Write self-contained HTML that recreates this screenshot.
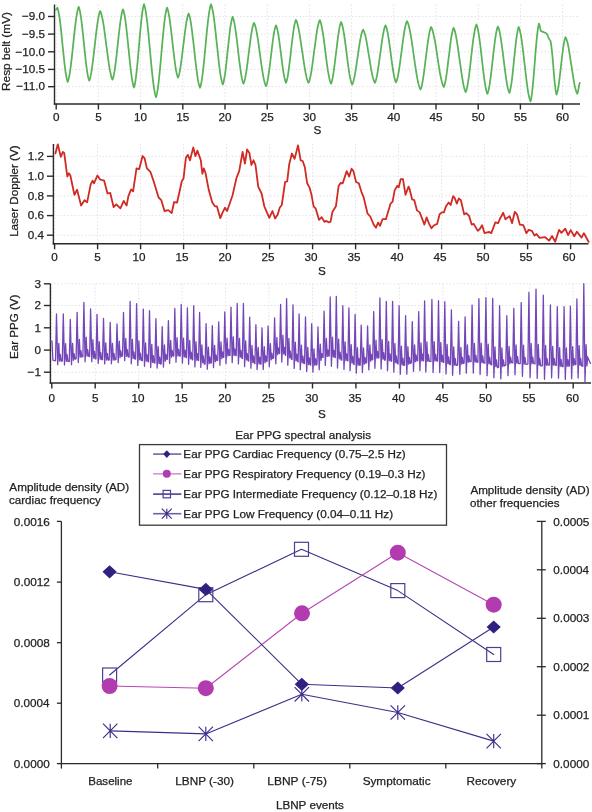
<!DOCTYPE html>
<html><head><meta charset="utf-8"><style>
html,body{margin:0;padding:0;background:#fff;}
svg{display:block;font-family:"Liberation Sans", sans-serif;filter:blur(0.4px);}
text{stroke:#222;stroke-width:0.25px;}
</style></head><body>
<svg width="592" height="812" viewBox="0 0 592 812">
<rect width="592" height="812" fill="#fff"/>
<line x1="54.5" y1="16.5" x2="580" y2="16.5" stroke="#e2e2e8" stroke-width="1" stroke-dasharray="1.5 2"/>
<line x1="54.5" y1="34.1" x2="580" y2="34.1" stroke="#e2e2e8" stroke-width="1" stroke-dasharray="1.5 2"/>
<line x1="54.5" y1="51.8" x2="580" y2="51.8" stroke="#e2e2e8" stroke-width="1" stroke-dasharray="1.5 2"/>
<line x1="54.5" y1="69.4" x2="580" y2="69.4" stroke="#e2e2e8" stroke-width="1" stroke-dasharray="1.5 2"/>
<line x1="54.5" y1="86.7" x2="580" y2="86.7" stroke="#e2e2e8" stroke-width="1" stroke-dasharray="1.5 2"/>
<line x1="56.2" y1="4.5" x2="56.2" y2="104" stroke="#e2e2e8" stroke-width="1" stroke-dasharray="1.5 2"/>
<line x1="98.4" y1="4.5" x2="98.4" y2="104" stroke="#e2e2e8" stroke-width="1" stroke-dasharray="1.5 2"/>
<line x1="140.6" y1="4.5" x2="140.6" y2="104" stroke="#e2e2e8" stroke-width="1" stroke-dasharray="1.5 2"/>
<line x1="182.8" y1="4.5" x2="182.8" y2="104" stroke="#e2e2e8" stroke-width="1" stroke-dasharray="1.5 2"/>
<line x1="225" y1="4.5" x2="225" y2="104" stroke="#e2e2e8" stroke-width="1" stroke-dasharray="1.5 2"/>
<line x1="267.2" y1="4.5" x2="267.2" y2="104" stroke="#e2e2e8" stroke-width="1" stroke-dasharray="1.5 2"/>
<line x1="309.4" y1="4.5" x2="309.4" y2="104" stroke="#e2e2e8" stroke-width="1" stroke-dasharray="1.5 2"/>
<line x1="351.6" y1="4.5" x2="351.6" y2="104" stroke="#e2e2e8" stroke-width="1" stroke-dasharray="1.5 2"/>
<line x1="393.8" y1="4.5" x2="393.8" y2="104" stroke="#e2e2e8" stroke-width="1" stroke-dasharray="1.5 2"/>
<line x1="436" y1="4.5" x2="436" y2="104" stroke="#e2e2e8" stroke-width="1" stroke-dasharray="1.5 2"/>
<line x1="478.2" y1="4.5" x2="478.2" y2="104" stroke="#e2e2e8" stroke-width="1" stroke-dasharray="1.5 2"/>
<line x1="520.4" y1="4.5" x2="520.4" y2="104" stroke="#e2e2e8" stroke-width="1" stroke-dasharray="1.5 2"/>
<line x1="562.6" y1="4.5" x2="562.6" y2="104" stroke="#e2e2e8" stroke-width="1" stroke-dasharray="1.5 2"/>
<line x1="54.5" y1="4.5" x2="54.5" y2="104.7" stroke="#2b2b2b" stroke-width="1.4" />
<line x1="53.8" y1="104" x2="580" y2="104" stroke="#2b2b2b" stroke-width="1.4" />
<line x1="48" y1="16.5" x2="54.5" y2="16.5" stroke="#2b2b2b" stroke-width="1.4" />
<text x="45" y="20.2" font-size="11.7" text-anchor="end" fill="#222" >−9.0</text>
<line x1="48" y1="34.1" x2="54.5" y2="34.1" stroke="#2b2b2b" stroke-width="1.4" />
<text x="45" y="37.8" font-size="11.7" text-anchor="end" fill="#222" >−9.5</text>
<line x1="48" y1="51.8" x2="54.5" y2="51.8" stroke="#2b2b2b" stroke-width="1.4" />
<text x="45" y="55.5" font-size="11.7" text-anchor="end" fill="#222" >−10.0</text>
<line x1="48" y1="69.4" x2="54.5" y2="69.4" stroke="#2b2b2b" stroke-width="1.4" />
<text x="45" y="73.1" font-size="11.7" text-anchor="end" fill="#222" >−10.5</text>
<line x1="48" y1="86.7" x2="54.5" y2="86.7" stroke="#2b2b2b" stroke-width="1.4" />
<text x="45" y="90.4" font-size="11.7" text-anchor="end" fill="#222" >−11.0</text>
<line x1="56.2" y1="104" x2="56.2" y2="109.5" stroke="#2b2b2b" stroke-width="1.4" />
<text x="56.2" y="121.4" font-size="11.7" text-anchor="middle" fill="#222" >0</text>
<line x1="98.4" y1="104" x2="98.4" y2="109.5" stroke="#2b2b2b" stroke-width="1.4" />
<text x="98.4" y="121.4" font-size="11.7" text-anchor="middle" fill="#222" >5</text>
<line x1="140.6" y1="104" x2="140.6" y2="109.5" stroke="#2b2b2b" stroke-width="1.4" />
<text x="140.6" y="121.4" font-size="11.7" text-anchor="middle" fill="#222" >10</text>
<line x1="182.8" y1="104" x2="182.8" y2="109.5" stroke="#2b2b2b" stroke-width="1.4" />
<text x="182.8" y="121.4" font-size="11.7" text-anchor="middle" fill="#222" >15</text>
<line x1="225" y1="104" x2="225" y2="109.5" stroke="#2b2b2b" stroke-width="1.4" />
<text x="225" y="121.4" font-size="11.7" text-anchor="middle" fill="#222" >20</text>
<line x1="267.2" y1="104" x2="267.2" y2="109.5" stroke="#2b2b2b" stroke-width="1.4" />
<text x="267.2" y="121.4" font-size="11.7" text-anchor="middle" fill="#222" >25</text>
<line x1="309.4" y1="104" x2="309.4" y2="109.5" stroke="#2b2b2b" stroke-width="1.4" />
<text x="309.4" y="121.4" font-size="11.7" text-anchor="middle" fill="#222" >30</text>
<line x1="351.6" y1="104" x2="351.6" y2="109.5" stroke="#2b2b2b" stroke-width="1.4" />
<text x="351.6" y="121.4" font-size="11.7" text-anchor="middle" fill="#222" >35</text>
<line x1="393.8" y1="104" x2="393.8" y2="109.5" stroke="#2b2b2b" stroke-width="1.4" />
<text x="393.8" y="121.4" font-size="11.7" text-anchor="middle" fill="#222" >40</text>
<line x1="436" y1="104" x2="436" y2="109.5" stroke="#2b2b2b" stroke-width="1.4" />
<text x="436" y="121.4" font-size="11.7" text-anchor="middle" fill="#222" >45</text>
<line x1="478.2" y1="104" x2="478.2" y2="109.5" stroke="#2b2b2b" stroke-width="1.4" />
<text x="478.2" y="121.4" font-size="11.7" text-anchor="middle" fill="#222" >50</text>
<line x1="520.4" y1="104" x2="520.4" y2="109.5" stroke="#2b2b2b" stroke-width="1.4" />
<text x="520.4" y="121.4" font-size="11.7" text-anchor="middle" fill="#222" >55</text>
<line x1="562.6" y1="104" x2="562.6" y2="109.5" stroke="#2b2b2b" stroke-width="1.4" />
<text x="562.6" y="121.4" font-size="11.7" text-anchor="middle" fill="#222" >60</text>
<text x="317.5" y="134.2" font-size="11.7" text-anchor="middle" fill="#222" >S</text>
<text x="-90.97" y="9.60" font-size="11.7" fill="#222" textLength="79.01" lengthAdjust="spacingAndGlyphs" transform="rotate(-90)">Resp belt (mV)</text>
<line x1="53.4" y1="156.4" x2="588.5" y2="156.4" stroke="#e2e2e8" stroke-width="1" stroke-dasharray="1.5 2"/>
<line x1="53.4" y1="176.2" x2="588.5" y2="176.2" stroke="#e2e2e8" stroke-width="1" stroke-dasharray="1.5 2"/>
<line x1="53.4" y1="195.9" x2="588.5" y2="195.9" stroke="#e2e2e8" stroke-width="1" stroke-dasharray="1.5 2"/>
<line x1="53.4" y1="215.6" x2="588.5" y2="215.6" stroke="#e2e2e8" stroke-width="1" stroke-dasharray="1.5 2"/>
<line x1="53.4" y1="235.2" x2="588.5" y2="235.2" stroke="#e2e2e8" stroke-width="1" stroke-dasharray="1.5 2"/>
<line x1="54.6" y1="144" x2="54.6" y2="243.8" stroke="#e2e2e8" stroke-width="1" stroke-dasharray="1.5 2"/>
<line x1="97.6" y1="144" x2="97.6" y2="243.8" stroke="#e2e2e8" stroke-width="1" stroke-dasharray="1.5 2"/>
<line x1="140.6" y1="144" x2="140.6" y2="243.8" stroke="#e2e2e8" stroke-width="1" stroke-dasharray="1.5 2"/>
<line x1="183.6" y1="144" x2="183.6" y2="243.8" stroke="#e2e2e8" stroke-width="1" stroke-dasharray="1.5 2"/>
<line x1="226.6" y1="144" x2="226.6" y2="243.8" stroke="#e2e2e8" stroke-width="1" stroke-dasharray="1.5 2"/>
<line x1="269.6" y1="144" x2="269.6" y2="243.8" stroke="#e2e2e8" stroke-width="1" stroke-dasharray="1.5 2"/>
<line x1="312.6" y1="144" x2="312.6" y2="243.8" stroke="#e2e2e8" stroke-width="1" stroke-dasharray="1.5 2"/>
<line x1="355.6" y1="144" x2="355.6" y2="243.8" stroke="#e2e2e8" stroke-width="1" stroke-dasharray="1.5 2"/>
<line x1="398.6" y1="144" x2="398.6" y2="243.8" stroke="#e2e2e8" stroke-width="1" stroke-dasharray="1.5 2"/>
<line x1="441.6" y1="144" x2="441.6" y2="243.8" stroke="#e2e2e8" stroke-width="1" stroke-dasharray="1.5 2"/>
<line x1="484.6" y1="144" x2="484.6" y2="243.8" stroke="#e2e2e8" stroke-width="1" stroke-dasharray="1.5 2"/>
<line x1="527.6" y1="144" x2="527.6" y2="243.8" stroke="#e2e2e8" stroke-width="1" stroke-dasharray="1.5 2"/>
<line x1="570.6" y1="144" x2="570.6" y2="243.8" stroke="#e2e2e8" stroke-width="1" stroke-dasharray="1.5 2"/>
<line x1="53.4" y1="144" x2="53.4" y2="244.5" stroke="#2b2b2b" stroke-width="1.4" />
<line x1="52.7" y1="243.8" x2="588.5" y2="243.8" stroke="#2b2b2b" stroke-width="1.4" />
<line x1="46.9" y1="156.4" x2="53.4" y2="156.4" stroke="#2b2b2b" stroke-width="1.4" />
<text x="43.9" y="160.1" font-size="11.7" text-anchor="end" fill="#222" >1.2</text>
<line x1="46.9" y1="176.2" x2="53.4" y2="176.2" stroke="#2b2b2b" stroke-width="1.4" />
<text x="43.9" y="179.9" font-size="11.7" text-anchor="end" fill="#222" >1.0</text>
<line x1="46.9" y1="195.9" x2="53.4" y2="195.9" stroke="#2b2b2b" stroke-width="1.4" />
<text x="43.9" y="199.6" font-size="11.7" text-anchor="end" fill="#222" >0.8</text>
<line x1="46.9" y1="215.6" x2="53.4" y2="215.6" stroke="#2b2b2b" stroke-width="1.4" />
<text x="43.9" y="219.3" font-size="11.7" text-anchor="end" fill="#222" >0.6</text>
<line x1="46.9" y1="235.2" x2="53.4" y2="235.2" stroke="#2b2b2b" stroke-width="1.4" />
<text x="43.9" y="238.9" font-size="11.7" text-anchor="end" fill="#222" >0.4</text>
<line x1="54.6" y1="243.8" x2="54.6" y2="249.3" stroke="#2b2b2b" stroke-width="1.4" />
<text x="54.6" y="261.1" font-size="11.7" text-anchor="middle" fill="#222" >0</text>
<line x1="97.6" y1="243.8" x2="97.6" y2="249.3" stroke="#2b2b2b" stroke-width="1.4" />
<text x="97.6" y="261.1" font-size="11.7" text-anchor="middle" fill="#222" >5</text>
<line x1="140.6" y1="243.8" x2="140.6" y2="249.3" stroke="#2b2b2b" stroke-width="1.4" />
<text x="139" y="261.1" font-size="11.7" text-anchor="middle" fill="#222" >10</text>
<line x1="183.6" y1="243.8" x2="183.6" y2="249.3" stroke="#2b2b2b" stroke-width="1.4" />
<text x="182" y="261.1" font-size="11.7" text-anchor="middle" fill="#222" >15</text>
<line x1="226.6" y1="243.8" x2="226.6" y2="249.3" stroke="#2b2b2b" stroke-width="1.4" />
<text x="225" y="261.1" font-size="11.7" text-anchor="middle" fill="#222" >20</text>
<line x1="269.6" y1="243.8" x2="269.6" y2="249.3" stroke="#2b2b2b" stroke-width="1.4" />
<text x="268" y="261.1" font-size="11.7" text-anchor="middle" fill="#222" >25</text>
<line x1="312.6" y1="243.8" x2="312.6" y2="249.3" stroke="#2b2b2b" stroke-width="1.4" />
<text x="311" y="261.1" font-size="11.7" text-anchor="middle" fill="#222" >30</text>
<line x1="355.6" y1="243.8" x2="355.6" y2="249.3" stroke="#2b2b2b" stroke-width="1.4" />
<text x="354" y="261.1" font-size="11.7" text-anchor="middle" fill="#222" >35</text>
<line x1="398.6" y1="243.8" x2="398.6" y2="249.3" stroke="#2b2b2b" stroke-width="1.4" />
<text x="397" y="261.1" font-size="11.7" text-anchor="middle" fill="#222" >40</text>
<line x1="441.6" y1="243.8" x2="441.6" y2="249.3" stroke="#2b2b2b" stroke-width="1.4" />
<text x="440" y="261.1" font-size="11.7" text-anchor="middle" fill="#222" >45</text>
<line x1="484.6" y1="243.8" x2="484.6" y2="249.3" stroke="#2b2b2b" stroke-width="1.4" />
<text x="483" y="261.1" font-size="11.7" text-anchor="middle" fill="#222" >50</text>
<line x1="527.6" y1="243.8" x2="527.6" y2="249.3" stroke="#2b2b2b" stroke-width="1.4" />
<text x="526" y="261.1" font-size="11.7" text-anchor="middle" fill="#222" >55</text>
<line x1="570.6" y1="243.8" x2="570.6" y2="249.3" stroke="#2b2b2b" stroke-width="1.4" />
<text x="569" y="261.1" font-size="11.7" text-anchor="middle" fill="#222" >60</text>
<text x="322" y="274.6" font-size="11.7" text-anchor="middle" fill="#222" >S</text>
<text x="-236.85" y="18.10" font-size="11.7" fill="#222" textLength="91.37" lengthAdjust="spacingAndGlyphs" transform="rotate(-90)">Laser Doppler (V)</text>
<line x1="50.4" y1="283.8" x2="591" y2="283.8" stroke="#e2e2e8" stroke-width="1" stroke-dasharray="1.5 2"/>
<line x1="50.4" y1="305.5" x2="591" y2="305.5" stroke="#e2e2e8" stroke-width="1" stroke-dasharray="1.5 2"/>
<line x1="50.4" y1="327.8" x2="591" y2="327.8" stroke="#e2e2e8" stroke-width="1" stroke-dasharray="1.5 2"/>
<line x1="50.4" y1="350.1" x2="591" y2="350.1" stroke="#e2e2e8" stroke-width="1" stroke-dasharray="1.5 2"/>
<line x1="50.4" y1="372.2" x2="591" y2="372.2" stroke="#e2e2e8" stroke-width="1" stroke-dasharray="1.5 2"/>
<line x1="51.8" y1="283.8" x2="51.8" y2="383" stroke="#e2e2e8" stroke-width="1" stroke-dasharray="1.5 2"/>
<line x1="95.2" y1="283.8" x2="95.2" y2="383" stroke="#e2e2e8" stroke-width="1" stroke-dasharray="1.5 2"/>
<line x1="138.7" y1="283.8" x2="138.7" y2="383" stroke="#e2e2e8" stroke-width="1" stroke-dasharray="1.5 2"/>
<line x1="182.1" y1="283.8" x2="182.1" y2="383" stroke="#e2e2e8" stroke-width="1" stroke-dasharray="1.5 2"/>
<line x1="225.6" y1="283.8" x2="225.6" y2="383" stroke="#e2e2e8" stroke-width="1" stroke-dasharray="1.5 2"/>
<line x1="269" y1="283.8" x2="269" y2="383" stroke="#e2e2e8" stroke-width="1" stroke-dasharray="1.5 2"/>
<line x1="312.5" y1="283.8" x2="312.5" y2="383" stroke="#e2e2e8" stroke-width="1" stroke-dasharray="1.5 2"/>
<line x1="355.9" y1="283.8" x2="355.9" y2="383" stroke="#e2e2e8" stroke-width="1" stroke-dasharray="1.5 2"/>
<line x1="399.4" y1="283.8" x2="399.4" y2="383" stroke="#e2e2e8" stroke-width="1" stroke-dasharray="1.5 2"/>
<line x1="442.8" y1="283.8" x2="442.8" y2="383" stroke="#e2e2e8" stroke-width="1" stroke-dasharray="1.5 2"/>
<line x1="486.3" y1="283.8" x2="486.3" y2="383" stroke="#e2e2e8" stroke-width="1" stroke-dasharray="1.5 2"/>
<line x1="529.7" y1="283.8" x2="529.7" y2="383" stroke="#e2e2e8" stroke-width="1" stroke-dasharray="1.5 2"/>
<line x1="573.2" y1="283.8" x2="573.2" y2="383" stroke="#e2e2e8" stroke-width="1" stroke-dasharray="1.5 2"/>
<line x1="50.4" y1="283.8" x2="50.4" y2="383.7" stroke="#2b2b2b" stroke-width="1.4" />
<line x1="49.7" y1="383" x2="591" y2="383" stroke="#2b2b2b" stroke-width="1.4" />
<line x1="43.9" y1="283.8" x2="50.4" y2="283.8" stroke="#2b2b2b" stroke-width="1.4" />
<text x="40.9" y="287.5" font-size="11.7" text-anchor="end" fill="#222" >3</text>
<line x1="43.9" y1="305.5" x2="50.4" y2="305.5" stroke="#2b2b2b" stroke-width="1.4" />
<text x="40.9" y="309.2" font-size="11.7" text-anchor="end" fill="#222" >2</text>
<line x1="43.9" y1="327.8" x2="50.4" y2="327.8" stroke="#2b2b2b" stroke-width="1.4" />
<text x="40.9" y="331.5" font-size="11.7" text-anchor="end" fill="#222" >1</text>
<line x1="43.9" y1="350.1" x2="50.4" y2="350.1" stroke="#2b2b2b" stroke-width="1.4" />
<text x="40.9" y="353.8" font-size="11.7" text-anchor="end" fill="#222" >0</text>
<line x1="43.9" y1="372.2" x2="50.4" y2="372.2" stroke="#2b2b2b" stroke-width="1.4" />
<text x="40.9" y="375.9" font-size="11.7" text-anchor="end" fill="#222" >−1</text>
<line x1="51.8" y1="383" x2="51.8" y2="388.5" stroke="#2b2b2b" stroke-width="1.4" />
<text x="51.8" y="401.9" font-size="11.7" text-anchor="middle" fill="#222" >0</text>
<line x1="95.2" y1="383" x2="95.2" y2="388.5" stroke="#2b2b2b" stroke-width="1.4" />
<text x="95.2" y="401.9" font-size="11.7" text-anchor="middle" fill="#222" >5</text>
<line x1="138.7" y1="383" x2="138.7" y2="388.5" stroke="#2b2b2b" stroke-width="1.4" />
<text x="137.9" y="401.9" font-size="11.7" text-anchor="middle" fill="#222" >10</text>
<line x1="182.1" y1="383" x2="182.1" y2="388.5" stroke="#2b2b2b" stroke-width="1.4" />
<text x="181.3" y="401.9" font-size="11.7" text-anchor="middle" fill="#222" >15</text>
<line x1="225.6" y1="383" x2="225.6" y2="388.5" stroke="#2b2b2b" stroke-width="1.4" />
<text x="224.8" y="401.9" font-size="11.7" text-anchor="middle" fill="#222" >20</text>
<line x1="269" y1="383" x2="269" y2="388.5" stroke="#2b2b2b" stroke-width="1.4" />
<text x="268.2" y="401.9" font-size="11.7" text-anchor="middle" fill="#222" >25</text>
<line x1="312.5" y1="383" x2="312.5" y2="388.5" stroke="#2b2b2b" stroke-width="1.4" />
<text x="311.7" y="401.9" font-size="11.7" text-anchor="middle" fill="#222" >30</text>
<line x1="355.9" y1="383" x2="355.9" y2="388.5" stroke="#2b2b2b" stroke-width="1.4" />
<text x="355.1" y="401.9" font-size="11.7" text-anchor="middle" fill="#222" >35</text>
<line x1="399.4" y1="383" x2="399.4" y2="388.5" stroke="#2b2b2b" stroke-width="1.4" />
<text x="398.6" y="401.9" font-size="11.7" text-anchor="middle" fill="#222" >40</text>
<line x1="442.8" y1="383" x2="442.8" y2="388.5" stroke="#2b2b2b" stroke-width="1.4" />
<text x="442" y="401.9" font-size="11.7" text-anchor="middle" fill="#222" >45</text>
<line x1="486.3" y1="383" x2="486.3" y2="388.5" stroke="#2b2b2b" stroke-width="1.4" />
<text x="485.5" y="401.9" font-size="11.7" text-anchor="middle" fill="#222" >50</text>
<line x1="529.7" y1="383" x2="529.7" y2="388.5" stroke="#2b2b2b" stroke-width="1.4" />
<text x="528.9" y="401.9" font-size="11.7" text-anchor="middle" fill="#222" >55</text>
<line x1="573.2" y1="383" x2="573.2" y2="388.5" stroke="#2b2b2b" stroke-width="1.4" />
<text x="572.4" y="401.9" font-size="11.7" text-anchor="middle" fill="#222" >60</text>
<text x="322" y="417.6" font-size="11.7" text-anchor="middle" fill="#222" >S</text>
<text x="-359.05" y="18.00" font-size="11.7" fill="#222" textLength="64.47" lengthAdjust="spacingAndGlyphs" transform="rotate(-90)">Ear PPG (V)</text>
<line x1="61.4" y1="521.4" x2="61.4" y2="764.2" stroke="#2b2b2b" stroke-width="1.3" />
<line x1="60.8" y1="763.6" x2="542.4" y2="763.6" stroke="#2b2b2b" stroke-width="1.3" />
<line x1="541.8" y1="521.4" x2="541.8" y2="764.2" stroke="#2b2b2b" stroke-width="1.3" />
<line x1="56.9" y1="521.4" x2="61.4" y2="521.4" stroke="#2b2b2b" stroke-width="1.3" />
<text x="13.84" y="525.60" font-size="11.7" fill="#222" textLength="35.98" lengthAdjust="spacingAndGlyphs">0.0016</text>
<line x1="56.9" y1="582.1" x2="61.4" y2="582.1" stroke="#2b2b2b" stroke-width="1.3" />
<text x="13.84" y="586.30" font-size="11.7" fill="#222" textLength="36.05" lengthAdjust="spacingAndGlyphs">0.0012</text>
<line x1="56.9" y1="642.7" x2="61.4" y2="642.7" stroke="#2b2b2b" stroke-width="1.3" />
<text x="13.84" y="646.90" font-size="11.7" fill="#222" textLength="35.97" lengthAdjust="spacingAndGlyphs">0.0008</text>
<line x1="56.9" y1="703.2" x2="61.4" y2="703.2" stroke="#2b2b2b" stroke-width="1.3" />
<text x="13.84" y="707.40" font-size="11.7" fill="#222" textLength="35.80" lengthAdjust="spacingAndGlyphs">0.0004</text>
<line x1="56.9" y1="763.6" x2="61.4" y2="763.6" stroke="#2b2b2b" stroke-width="1.3" />
<text x="13.84" y="767.80" font-size="11.7" fill="#222" textLength="35.92" lengthAdjust="spacingAndGlyphs">0.0000</text>
<line x1="536.8" y1="521.4" x2="545.8" y2="521.4" stroke="#2b2b2b" stroke-width="1.3" />
<text x="553.34" y="525.60" font-size="11.7" fill="#222" textLength="35.95" lengthAdjust="spacingAndGlyphs">0.0005</text>
<line x1="536.8" y1="569.8" x2="545.8" y2="569.8" stroke="#2b2b2b" stroke-width="1.3" />
<text x="553.34" y="574.04" font-size="11.7" fill="#222" textLength="35.80" lengthAdjust="spacingAndGlyphs">0.0004</text>
<line x1="536.8" y1="618.3" x2="545.8" y2="618.3" stroke="#2b2b2b" stroke-width="1.3" />
<text x="553.34" y="622.48" font-size="11.7" fill="#222" textLength="35.98" lengthAdjust="spacingAndGlyphs">0.0003</text>
<line x1="536.8" y1="666.7" x2="545.8" y2="666.7" stroke="#2b2b2b" stroke-width="1.3" />
<text x="553.34" y="670.92" font-size="11.7" fill="#222" textLength="36.05" lengthAdjust="spacingAndGlyphs">0.0002</text>
<line x1="536.8" y1="715.2" x2="545.8" y2="715.2" stroke="#2b2b2b" stroke-width="1.3" />
<text x="553.34" y="719.36" font-size="11.7" fill="#222" textLength="36.04" lengthAdjust="spacingAndGlyphs">0.0001</text>
<line x1="536.8" y1="763.6" x2="545.8" y2="763.6" stroke="#2b2b2b" stroke-width="1.3" />
<text x="553.34" y="767.80" font-size="11.7" fill="#222" textLength="35.92" lengthAdjust="spacingAndGlyphs">0.0000</text>
<line x1="157.7" y1="763.6" x2="157.7" y2="768.6" stroke="#2b2b2b" stroke-width="1.3" />
<line x1="253.8" y1="763.6" x2="253.8" y2="768.6" stroke="#2b2b2b" stroke-width="1.3" />
<line x1="349.8" y1="763.6" x2="349.8" y2="768.6" stroke="#2b2b2b" stroke-width="1.3" />
<line x1="445.8" y1="763.6" x2="445.8" y2="768.6" stroke="#2b2b2b" stroke-width="1.3" />
<line x1="61.4" y1="763.6" x2="61.4" y2="768.6" stroke="#2b2b2b" stroke-width="1.3" />
<line x1="541.8" y1="763.6" x2="541.8" y2="768.6" stroke="#2b2b2b" stroke-width="1.3" />
<text x="88.25" y="784.60" font-size="11.7" fill="#222" textLength="44.26" lengthAdjust="spacingAndGlyphs">Baseline</text>
<text x="175.24" y="784.60" font-size="11.7" fill="#222" textLength="58.69" lengthAdjust="spacingAndGlyphs">LBNP (-30)</text>
<text x="267.32" y="784.60" font-size="11.7" fill="#222" textLength="59.62" lengthAdjust="spacingAndGlyphs">LBNP (-75)</text>
<text x="362.67" y="784.60" font-size="11.7" fill="#222" textLength="67.84" lengthAdjust="spacingAndGlyphs">Symptomatic</text>
<text x="466.43" y="784.60" font-size="11.7" fill="#222" textLength="49.79" lengthAdjust="spacingAndGlyphs">Recovery</text>
<text x="275.95" y="809.00" font-size="11.7" fill="#222" textLength="67.87" lengthAdjust="spacingAndGlyphs">LBNP events</text>
<text x="9.38" y="490.70" font-size="11.7" fill="#222" textLength="119.85" lengthAdjust="spacingAndGlyphs">Amplitude density (AD)</text>
<text x="8.91" y="504.40" font-size="11.7" fill="#222" textLength="91.92" lengthAdjust="spacingAndGlyphs">cardiac frequency</text>
<text x="470.38" y="493.80" font-size="11.7" fill="#222" textLength="119.25" lengthAdjust="spacingAndGlyphs">Amplitude density (AD)</text>
<text x="470.11" y="507.00" font-size="11.7" fill="#222" textLength="89.40" lengthAdjust="spacingAndGlyphs">other frequencies</text>
<text x="235.24" y="438.80" font-size="11.7" fill="#222" textLength="135.78" lengthAdjust="spacingAndGlyphs">Ear PPG spectral analysis</text>
<rect x="139.5" y="444.6" width="307.0" height="80.6" fill="none" stroke="#3a3a3a" stroke-width="1.3"/>
<line x1="153.1" y1="454.1" x2="181.3" y2="454.1" stroke="#6d66a6" stroke-width="1.6" />
<text x="183.34" y="457.60" font-size="11.7" fill="#222" textLength="222.39" lengthAdjust="spacingAndGlyphs">Ear PPG Cardiac Frequency (0.75–2.5 Hz)</text>
<line x1="153.1" y1="473.8" x2="181.3" y2="473.8" stroke="#d891d2" stroke-width="1.6" />
<text x="183.34" y="477.70" font-size="11.7" fill="#222" textLength="242.19" lengthAdjust="spacingAndGlyphs">Ear PPG Respiratory Frequency (0.19–0.3 Hz)</text>
<line x1="153.1" y1="494.1" x2="181.3" y2="494.1" stroke="#4a4190" stroke-width="1.6" />
<text x="183.34" y="497.80" font-size="11.7" fill="#222" textLength="253.99" lengthAdjust="spacingAndGlyphs">Ear PPG Intermediate Frequency (0.12–0.18 Hz)</text>
<line x1="153.1" y1="513.7" x2="181.3" y2="513.7" stroke="#6a64a2" stroke-width="1.6" />
<text x="183.34" y="517.60" font-size="11.7" fill="#222" textLength="209.78" lengthAdjust="spacingAndGlyphs">Ear PPG Low Frequency (0.04–0.11 Hz)</text>
<path d="M166.8 450.3 L170.4 454.1 L166.8 457.9 L163.2 454.1Z" fill="#2f2180"/>
<circle cx="166.8" cy="473.8" r="4" fill="#b33bb0"/>
<rect x="163.1" y="490.4" width="7.4" height="7.4" fill="none" stroke="#4a4192" stroke-width="1.2"/>
<path d="M161.8 508.7 L171.8 518.7 M171.8 508.7 L161.8 518.7 M166.8 508.7 L166.8 518.7" stroke="#3b2f8a" stroke-width="1.15" fill="none"/>
<path d="M109.6 675 L205.8 594.7 L301.5 549.3 L397.8 590.6 L493.7 654.5" fill="none" stroke="#3a3088" stroke-width="1.1" stroke-linejoin="round" stroke-linecap="round" />
<path d="M110.2 730.9 L205.8 733.9 L301.8 694.3 L397.8 712.5 L493.7 741.1" fill="none" stroke="#3a3088" stroke-width="1.1" stroke-linejoin="round" stroke-linecap="round" />
<path d="M109.6 686 L205.8 688.2 L302 613.3 L397.8 552.7 L493.7 604.7" fill="none" stroke="#b548b2" stroke-width="1.1" stroke-linejoin="round" stroke-linecap="round" />
<path d="M109.6 571.8 L205.8 589.4 L301.8 684.3 L397.8 688 L493.7 627" fill="none" stroke="#3a3088" stroke-width="1.1" stroke-linejoin="round" stroke-linecap="round" />
<rect x="102.6" y="668" width="14" height="14" fill="none" stroke="#4a4192" stroke-width="1.2"/>
<rect x="198.8" y="587.7" width="14" height="14" fill="none" stroke="#4a4192" stroke-width="1.2"/>
<rect x="294.5" y="542.3" width="14" height="14" fill="none" stroke="#4a4192" stroke-width="1.2"/>
<rect x="390.8" y="583.6" width="14" height="14" fill="none" stroke="#4a4192" stroke-width="1.2"/>
<rect x="486.7" y="647.5" width="14" height="14" fill="none" stroke="#4a4192" stroke-width="1.2"/>
<circle cx="109.6" cy="686" r="8" fill="#b33bb0"/>
<circle cx="205.8" cy="688.2" r="8" fill="#b33bb0"/>
<circle cx="302" cy="613.3" r="8" fill="#b33bb0"/>
<circle cx="397.8" cy="552.7" r="8" fill="#b33bb0"/>
<circle cx="493.7" cy="604.7" r="8" fill="#b33bb0"/>
<path d="M109.6 565.2 L116.7 571.8 L109.6 578.4 L102.5 571.8Z" fill="#2f2180"/>
<path d="M205.8 582.8 L212.9 589.4 L205.8 596 L198.7 589.4Z" fill="#2f2180"/>
<path d="M301.8 677.7 L308.9 684.3 L301.8 690.9 L294.7 684.3Z" fill="#2f2180"/>
<path d="M397.8 681.4 L404.9 688 L397.8 694.6 L390.7 688Z" fill="#2f2180"/>
<path d="M493.7 620.4 L500.8 627 L493.7 633.6 L486.6 627Z" fill="#2f2180"/>
<path d="M103 723.7 L117.4 738.1 M117.4 723.7 L103 738.1 M110.2 723.7 L110.2 738.1" stroke="#3b2f8a" stroke-width="1.15" fill="none"/>
<path d="M198.6 726.7 L213 741.1 M213 726.7 L198.6 741.1 M205.8 726.7 L205.8 741.1" stroke="#3b2f8a" stroke-width="1.15" fill="none"/>
<path d="M294.6 687.1 L309 701.5 M309 687.1 L294.6 701.5 M301.8 687.1 L301.8 701.5" stroke="#3b2f8a" stroke-width="1.15" fill="none"/>
<path d="M390.6 705.3 L405 719.7 M405 705.3 L390.6 719.7 M397.8 705.3 L397.8 719.7" stroke="#3b2f8a" stroke-width="1.15" fill="none"/>
<path d="M486.5 733.9 L500.9 748.3 M500.9 733.9 L486.5 748.3 M493.7 733.9 L493.7 748.3" stroke="#3b2f8a" stroke-width="1.15" fill="none"/>
<path d="M55.6 10 L56.2 9.4 L56.8 8.4 L57.4 7.8 L57.9 9.2 L58.4 11.3 L58.9 14 L59.5 17.2 L60 21 L60.5 25.2 L61 29.7 L61.5 34.6 L62 39.7 L62.5 44.8 L63.1 50 L63.6 55.1 L64.1 60 L64.6 64.5 L65.1 68.7 L65.6 72.5 L66.2 75.7 L66.7 78.4 L67.2 80.5 L67.7 81.9 L68.2 80.6 L68.7 78.8 L69.2 76.5 L69.7 73.6 L70.2 70.4 L70.7 66.7 L71.2 62.7 L71.7 58.3 L72.2 53.8 L72.7 49.1 L73.2 44.4 L73.7 39.6 L74.2 34.9 L74.7 30.4 L75.2 26 L75.7 22 L76.2 18.3 L76.7 15.1 L77.2 12.2 L77.7 9.9 L78.2 8.1 L78.7 6.8 L79.2 8.1 L79.7 10.1 L80.2 12.5 L80.7 15.5 L81.2 19 L81.7 22.9 L82.2 27.1 L82.7 31.7 L83.2 36.4 L83.7 41.3 L84.2 46.2 L84.7 51.1 L85.2 55.8 L85.7 60.4 L86.2 64.6 L86.7 68.5 L87.2 72 L87.7 75 L88.2 77.4 L88.7 79.4 L89.2 80.7 L89.7 79.5 L90.2 77.8 L90.7 75.6 L91.2 73 L91.7 70 L92.2 66.6 L92.7 62.8 L93.2 58.8 L93.7 54.6 L94.2 50.3 L94.7 45.9 L95.2 41.4 L95.7 37.1 L96.2 32.9 L96.7 28.9 L97.2 25.1 L97.7 21.7 L98.2 18.7 L98.7 16.1 L99.2 13.9 L99.7 12.2 L100.2 11 L100.7 12.1 L101.2 13.5 L101.7 15.4 L102.2 17.7 L102.8 20.3 L103.3 23.2 L103.8 26.4 L104.3 29.9 L104.8 33.6 L105.3 37.4 L105.8 41.4 L106.3 45.3 L106.9 49.3 L107.4 53.3 L107.9 57.1 L108.4 60.8 L108.9 64.3 L109.4 67.5 L109.9 70.4 L110.5 73 L111 75.3 L111.5 77.2 L112 78.6 L112.5 79.7 L113 78.4 L113.5 76.6 L114 74.2 L114.5 71.4 L115 68.1 L115.5 64.4 L116 60.3 L116.5 56 L117 51.5 L117.5 46.8 L118 42.2 L118.5 37.5 L119 33 L119.5 28.7 L120 24.6 L120.5 20.9 L121 17.6 L121.5 14.8 L122 12.4 L122.5 10.6 L123 9.3 L123.5 10.6 L124 12.5 L124.5 15 L125 17.9 L125.5 21.3 L126 25.1 L126.5 29.3 L127 33.8 L127.5 38.6 L128 43.4 L128.5 48.4 L129 53.4 L129.5 58.2 L130 63 L130.5 67.5 L131 71.7 L131.5 75.5 L132 78.9 L132.5 81.8 L133 84.3 L133.5 86.2 L134 87.5 L134.5 85.9 L135 83.6 L135.5 80.6 L136 76.9 L136.5 72.7 L137 68 L137.5 62.8 L138 57.4 L138.5 51.7 L139 45.9 L139.5 40 L140 34.3 L140.5 28.9 L141 23.7 L141.5 19 L142 14.8 L142.5 11.1 L143 8.1 L143.5 5.8 L144 4.2 L144.5 5.6 L145 7.6 L145.5 10.2 L146 13.2 L146.5 16.7 L147 20.7 L147.5 25 L148 29.7 L148.5 34.7 L149 39.9 L149.5 45.2 L150 50.6 L150.5 56.1 L151 61.4 L151.5 66.6 L152 71.6 L152.5 76.3 L153 80.6 L153.5 84.6 L154 88.1 L154.5 91.1 L155 93.7 L155.5 95.7 L156 97.1 L156.5 95.6 L157 93.4 L157.5 90.6 L158 87.2 L158.5 83.3 L159 79 L159.5 74.2 L160 69 L160.5 63.6 L161 58 L161.5 52.4 L162 46.7 L162.5 41.1 L163 35.7 L163.5 30.5 L164 25.7 L164.5 21.4 L165 17.5 L165.5 14.1 L166 11.3 L166.5 9.1 L167 7.6 L167.5 8.8 L168 10.5 L168.5 12.7 L169 15.3 L169.5 18.4 L170 21.8 L170.5 25.6 L171 29.6 L171.5 33.8 L172 38.2 L172.5 42.6 L173 47.1 L173.5 51.5 L174 55.7 L174.5 59.7 L175 63.5 L175.5 66.9 L176 70 L176.5 72.6 L177 74.8 L177.5 76.5 L178 77.7 L178.5 76.5 L179 74.9 L179.5 72.7 L180 70.1 L180.5 67.1 L181 63.7 L181.5 60 L182 56.1 L182.5 52 L183 47.7 L183.6 43.5 L184.1 39.2 L184.6 35.1 L185.1 31.2 L185.6 27.5 L186.1 24.1 L186.6 21.1 L187.1 18.5 L187.6 16.3 L188.1 14.7 L188.6 13.5 L189.1 14.8 L189.6 16.6 L190.2 18.9 L190.7 21.7 L191.2 24.9 L191.7 28.6 L192.2 32.5 L192.7 36.8 L193.3 41.3 L193.8 45.9 L194.3 50.6 L194.8 55.4 L195.3 60 L195.9 64.5 L196.4 68.8 L196.9 72.7 L197.4 76.4 L197.9 79.6 L198.4 82.4 L199 84.7 L199.5 86.5 L200 87.8 L200.5 86.4 L201 84.3 L201.5 81.7 L202 78.6 L202.5 75 L203 70.9 L203.5 66.4 L204 61.6 L204.5 56.5 L205 51.3 L205.5 46 L206 40.7 L206.5 35.5 L207 30.4 L207.5 25.6 L208 21.1 L208.5 17 L209 13.4 L209.5 10.3 L210 7.7 L210.5 5.6 L211 4.2 L211.5 5.5 L212 7.3 L212.5 9.7 L213.1 12.5 L213.6 15.7 L214.1 19.4 L214.6 23.4 L215.1 27.8 L215.6 32.3 L216.1 37.1 L216.6 41.9 L217.2 46.8 L217.7 51.6 L218.2 56.4 L218.7 60.9 L219.2 65.3 L219.7 69.3 L220.2 73 L220.7 76.2 L221.3 79 L221.8 81.4 L222.3 83.2 L222.8 84.5 L223.3 83.1 L223.8 81.1 L224.3 78.4 L224.9 75.2 L225.4 71.5 L225.9 67.4 L226.4 62.9 L226.9 58.1 L227.4 53.2 L228 48.2 L228.5 43.3 L229 38.5 L229.5 34 L230 29.9 L230.5 26.2 L231.1 23 L231.6 20.3 L232.1 18.3 L232.6 16.9 L233.1 18.1 L233.6 19.8 L234.2 22.1 L234.7 24.8 L235.2 27.9 L235.7 31.4 L236.2 35.2 L236.8 39.3 L237.3 43.6 L237.8 48 L238.3 52.5 L238.8 56.9 L239.3 61.2 L239.9 65.3 L240.4 69.1 L240.9 72.6 L241.4 75.7 L241.9 78.4 L242.5 80.7 L243 82.4 L243.5 83.6 L244 82.5 L244.5 80.9 L245 78.9 L245.5 76.4 L246 73.6 L246.5 70.4 L247 66.9 L247.5 63.1 L248 59.2 L248.5 55.2 L249 51.2 L249.5 47.2 L250 43.3 L250.5 39.5 L251 36 L251.5 32.8 L252 30 L252.5 27.5 L253 25.5 L253.5 23.9 L254 22.8 L254.5 23.8 L255 25.1 L255.5 26.9 L256 28.9 L256.5 31.3 L257 34 L257.5 37 L258 40.2 L258.5 43.6 L259 47.1 L259.5 50.8 L260 54.4 L260.5 58.1 L261 61.8 L261.5 65.3 L262 68.7 L262.5 71.9 L263 74.9 L263.5 77.6 L264 80 L264.5 82 L265 83.8 L265.5 85.1 L266 86.1 L266.5 84.9 L267 83.2 L267.5 81 L268 78.4 L268.5 75.3 L269 71.9 L269.5 68.1 L270 64.1 L270.5 59.9 L271 55.7 L271.5 51.5 L272 47.3 L272.5 43.3 L273 39.5 L273.5 36.1 L274 33 L274.5 30.4 L275 28.2 L275.5 26.5 L276 25.3 L276.5 26.4 L277 28 L277.5 30.1 L278 32.6 L278.5 35.5 L279 38.8 L279.5 42.3 L280 46.1 L280.5 50 L281 54 L281.5 58.1 L282 62 L282.5 65.8 L283 69.3 L283.5 72.6 L284 75.5 L284.5 78 L285 80.1 L285.5 81.7 L286 82.8 L286.5 81.5 L287 79.6 L287.6 77.2 L288.1 74.2 L288.6 70.7 L289.1 66.9 L289.6 62.7 L290.2 58.2 L290.7 53.7 L291.2 49 L291.7 44.5 L292.3 40 L292.8 35.8 L293.3 32 L293.8 28.5 L294.3 25.5 L294.9 23.1 L295.4 21.2 L295.9 19.9 L296.4 20.8 L296.9 22.1 L297.4 23.7 L297.9 25.6 L298.4 27.9 L298.9 30.4 L299.4 33.2 L299.9 36.2 L300.4 39.3 L300.9 42.7 L301.4 46.1 L301.9 49.6 L302.5 53.1 L303 56.6 L303.5 60 L304 63.4 L304.5 66.5 L305 69.5 L305.5 72.3 L306 74.8 L306.5 77.1 L307 79 L307.5 80.6 L308 81.9 L308.5 82.8 L309 81.7 L309.5 80.2 L310 78.3 L310.6 75.9 L311.1 73.2 L311.6 70.1 L312.1 66.7 L312.6 63.1 L313.1 59.3 L313.6 55.4 L314.1 51.5 L314.7 47.5 L315.2 43.6 L315.7 39.8 L316.2 36.2 L316.7 32.8 L317.2 29.7 L317.7 27 L318.3 24.6 L318.8 22.7 L319.3 21.2 L319.8 20.1 L320.3 21.2 L320.8 22.7 L321.3 24.7 L321.8 27.1 L322.3 29.9 L322.9 33 L323.4 36.4 L323.9 40 L324.4 43.9 L324.9 47.8 L325.4 51.8 L325.9 55.9 L326.4 59.8 L326.9 63.7 L327.4 67.3 L327.9 70.7 L328.5 73.8 L329 76.6 L329.5 79 L330 81 L330.5 82.5 L331 83.6 L331.5 82.4 L332 80.7 L332.5 78.5 L333 75.8 L333.5 72.7 L334 69.2 L334.5 65.4 L335 61.3 L335.5 57.1 L336.1 52.8 L336.6 48.5 L337.1 44.3 L337.6 40.2 L338.1 36.4 L338.6 32.9 L339.1 29.8 L339.6 27.1 L340.1 24.9 L340.6 23.2 L341.1 22 L341.6 23.1 L342.1 24.6 L342.6 26.5 L343.1 28.9 L343.6 31.6 L344.1 34.7 L344.6 38 L345.1 41.6 L345.6 45.4 L346.1 49.3 L346.6 53.2 L347.1 57.2 L347.6 61.1 L348.1 64.9 L348.6 68.5 L349.1 71.8 L349.6 74.9 L350.1 77.6 L350.6 80 L351.1 81.9 L351.6 83.4 L352.1 84.5 L352.6 83.6 L353.1 82.2 L353.6 80.5 L354.1 78.5 L354.6 76.1 L355.1 73.4 L355.6 70.4 L356.1 67.3 L356.6 64 L357.1 60.5 L357.6 57.1 L358.1 53.6 L358.6 50.1 L359.1 46.8 L359.6 43.7 L360.1 40.7 L360.6 38 L361.1 35.6 L361.6 33.6 L362.1 31.9 L362.6 30.5 L363.1 29.6 L363.6 30.5 L364.1 31.7 L364.6 33.2 L365.2 35.1 L365.7 37.2 L366.2 39.7 L366.7 42.3 L367.2 45.2 L367.7 48.2 L368.2 51.4 L368.7 54.6 L369.3 57.8 L369.8 61 L370.3 64.2 L370.8 67.2 L371.3 70.1 L371.8 72.7 L372.3 75.2 L372.8 77.3 L373.4 79.2 L373.9 80.7 L374.4 81.9 L374.9 82.8 L375.4 81.8 L375.9 80.3 L376.4 78.3 L376.9 76 L377.4 73.3 L377.9 70.3 L378.4 67 L378.9 63.5 L379.4 59.8 L379.9 56 L380.5 52.1 L381 48.3 L381.5 44.6 L382 41.1 L382.5 37.8 L383 34.8 L383.5 32.1 L384 29.8 L384.5 27.8 L385 26.3 L385.5 25.3 L386 26.3 L386.5 27.8 L387 29.7 L387.5 32 L388 34.7 L388.5 37.7 L389 41 L389.5 44.5 L390 48.2 L390.5 51.9 L391 55.8 L391.5 59.5 L392 63.2 L392.5 66.7 L393 70 L393.5 73 L394 75.7 L394.5 78 L395 79.9 L395.5 81.4 L396 82.4 L396.5 81.3 L397 79.9 L397.5 78 L398 75.7 L398.5 73 L399 70 L399.5 66.7 L400 63.2 L400.5 59.5 L401 55.6 L401.5 51.8 L402 47.9 L402.5 44 L403 40.3 L403.5 36.8 L404 33.5 L404.5 30.5 L405 27.8 L405.5 25.5 L406 23.6 L406.5 22.2 L407 21.1 L407.5 22 L408 23.3 L408.5 24.8 L409 26.7 L409.5 28.8 L410 31.3 L410.5 33.9 L411 36.8 L411.5 39.9 L412 43.2 L412.5 46.5 L413 50 L413.5 53.5 L414 57.1 L414.5 60.6 L415 64.1 L415.5 67.4 L416 70.7 L416.5 73.8 L417 76.7 L417.5 79.3 L418 81.8 L418.5 83.9 L419 85.8 L419.5 87.3 L420 88.6 L420.5 89.5 L421 88.4 L421.5 86.7 L422 84.7 L422.5 82.1 L423 79.2 L423.5 75.9 L424 72.3 L424.5 68.5 L425 64.5 L425.5 60.3 L426.1 56.2 L426.6 52 L427.1 48 L427.6 44.2 L428.1 40.6 L428.6 37.3 L429.1 34.4 L429.6 31.8 L430.1 29.8 L430.6 28.1 L431.1 27 L431.6 27.9 L432.1 29.1 L432.6 30.6 L433.1 32.5 L433.6 34.6 L434.1 37 L434.7 39.7 L435.2 42.5 L435.7 45.5 L436.2 48.7 L436.7 52 L437.2 55.3 L437.7 58.7 L438.2 62 L438.7 65.3 L439.2 68.5 L439.7 71.5 L440.2 74.3 L440.8 77 L441.3 79.4 L441.8 81.5 L442.3 83.4 L442.8 84.9 L443.3 86.1 L443.8 87 L444.3 85.8 L444.8 84 L445.3 81.7 L445.9 78.9 L446.4 75.7 L446.9 72 L447.4 68.1 L447.9 63.9 L448.4 59.6 L449 55.3 L449.5 51 L450 46.8 L450.5 42.9 L451 39.2 L451.5 36 L452.1 33.2 L452.6 30.9 L453.1 29.1 L453.6 27.9 L454.1 28.9 L454.6 30.3 L455.1 32 L455.6 34.1 L456.1 36.6 L456.6 39.3 L457.1 42.3 L457.6 45.6 L458.1 49 L458.6 52.6 L459.1 56.3 L459.6 60 L460.2 63.7 L460.7 67.4 L461.2 71 L461.7 74.4 L462.2 77.7 L462.7 80.7 L463.2 83.4 L463.7 85.9 L464.2 88 L464.7 89.7 L465.2 91.1 L465.7 92.1 L466.2 90.9 L466.7 89.1 L467.2 86.9 L467.7 84.1 L468.2 81 L468.8 77.4 L469.3 73.5 L469.8 69.4 L470.3 65 L470.8 60.6 L471.3 56 L471.8 51.6 L472.3 47.2 L472.8 43.1 L473.3 39.2 L473.9 35.6 L474.4 32.5 L474.9 29.7 L475.4 27.5 L475.9 25.7 L476.4 24.5 L476.9 25.7 L477.4 27.4 L477.9 29.5 L478.4 32.1 L478.9 35.1 L479.4 38.5 L479.9 42.3 L480.4 46.2 L480.9 50.4 L481.4 54.8 L481.9 59.1 L482.4 63.5 L482.9 67.9 L483.4 72.1 L483.9 76 L484.4 79.8 L484.9 83.2 L485.4 86.2 L485.9 88.8 L486.4 90.9 L486.9 92.6 L487.4 93.8 L487.9 92.6 L488.4 90.8 L488.9 88.6 L489.4 85.9 L489.9 82.7 L490.4 79.2 L490.9 75.3 L491.4 71.2 L491.9 66.8 L492.4 62.4 L492.9 57.9 L493.4 53.5 L493.9 49.1 L494.4 45 L494.9 41.1 L495.4 37.6 L495.9 34.4 L496.4 31.7 L496.9 29.5 L497.4 27.7 L497.9 26.5 L498.4 27.6 L498.9 29.1 L499.4 31 L499.9 33.3 L500.4 36 L500.9 39.1 L501.4 42.4 L501.9 46 L502.4 49.8 L502.9 53.7 L503.4 57.7 L503.9 61.7 L504.4 65.7 L504.9 69.6 L505.4 73.4 L505.9 77 L506.4 80.3 L506.9 83.4 L507.4 86.1 L507.9 88.4 L508.4 90.3 L508.9 91.8 L509.4 92.9 L509.9 91.5 L510.4 89.3 L510.9 86.5 L511.5 83.1 L512 79.2 L512.5 74.8 L513 70 L513.5 65.1 L514 60 L514.6 54.8 L515.1 49.9 L515.6 45.1 L516.1 40.7 L516.6 36.8 L517.2 33.4 L517.7 30.6 L518.2 28.4 L518.7 27 L519.2 28.2 L519.7 29.9 L520.2 32.1 L520.8 34.7 L521.3 37.7 L521.8 41.1 L522.3 44.8 L522.8 48.8 L523.3 53.1 L523.8 57.4 L524.3 61.9 L524.9 66.5 L525.4 71 L525.9 75.3 L526.4 79.6 L526.9 83.6 L527.4 87.3 L527.9 90.7 L528.4 93.7 L529 96.3 L529.5 98.5 L530 100.2 L530.5 101.4 L531 99.6 L531.5 96.8 L532 93.2 L532.5 88.8 L533 83.7 L533.5 78.1 L534 72 L534.5 65.7 L535 59.3 L535.5 53 L536 46.9 L536.5 41.3 L537 36.2 L537.5 31.8 L538 28.2 L538.5 25.4 L539 23.6 L539.5 24.9 L540 27.4 L540.5 29.9 L541 31.2 L541.5 31.3 L542 31.4 L542.5 31.6 L543 31.9 L543.5 32.1 L544 32.3 L544.5 32.6 L545 32.8 L545.5 32.9 L546 33 L546.5 33.5 L547.1 34.3 L547.6 35.5 L548.1 36.8 L548.7 38 L549.2 39.2 L549.8 40 L550.3 40.5 L550.8 42.5 L551.3 45.7 L551.8 50.1 L552.4 55.4 L552.9 61.3 L553.4 67.5 L553.9 73.8 L554.4 79.7 L555 85 L555.5 89.4 L556 92.6 L556.5 94.6 L557 93.3 L557.5 91.5 L558 89 L558.5 86.1 L559 82.6 L559.5 78.8 L560 74.7 L560.5 70.3 L561 65.9 L561.5 61.5 L562 57.1 L562.5 53 L563 49.2 L563.5 45.7 L564 42.8 L564.5 40.3 L565 38.5 L565.5 37.2 L566 38.1 L566.5 39.4 L567 41.1 L567.6 43 L568.1 45.3 L568.6 47.9 L569.1 50.8 L569.6 53.8 L570.1 57 L570.6 60.4 L571.1 63.8 L571.7 67.2 L572.2 70.6 L572.7 74 L573.2 77.2 L573.7 80.2 L574.2 83.1 L574.7 85.7 L575.2 88 L575.8 89.9 L576.3 91.6 L576.8 92.9 L577.3 93.8 L577.8 92.4 L578.3 89.8 L578.8 86.8 L579.3 84.2 L579.8 82.8" fill="none" stroke="#58b258" stroke-width="1.75" stroke-linejoin="round" stroke-linecap="round"/>
<path d="M55.4 153.5 L57.8 144.3 L60.8 156.9 L62.9 151.9 L64.2 152.9 L67.3 176.5 L68.9 173.2 L70.3 175.2 L74.4 194.8 L77.1 189.8 L81.1 205.6 L84.5 200.2 L87.2 202.2 L90.6 184.7 L92.6 180.6 L94 183.3 L97.4 175.5 L100.1 179.5 L104.1 180.6 L107.5 193.5 L110.2 192.8 L113.6 207 L116.3 204.3 L120.4 208.3 L123.7 200.9 L126.6 205.6 L128.4 196.2 L131.1 189.4 L133.1 191.4 L136.5 168.4 L139.2 169.1 L142.6 156 L144.6 158.3 L146.9 168.4 L150.4 171.8 L153.4 180.6 L158.6 197.5 L161.3 200.2 L164.5 211 L168.3 210.1 L171.7 213.1 L174 202.2 L177.1 202.5 L181.8 181.3 L183.5 178.6 L185.9 157.6 L187.9 154.9 L190 160.3 L193.3 147.4 L195.4 156.2 L197.4 150.6 L200.8 160.3 L202.4 173.8 L203.8 168.4 L205.4 172.5 L208.8 190.1 L212.2 202.2 L214.9 206.3 L216.9 206.3 L220.3 218.2 L222.3 213.1 L225 207.7 L227.1 211 L232.5 195.5 L236.5 177.9 L239.2 171.1 L242.6 151.9 L244.9 163.7 L247.1 149.5 L249.4 152.9 L251.4 165 L253.5 160.3 L255.5 165 L258.2 186.7 L261.6 193.5 L264.3 206.3 L269.3 217.8 L272.4 211 L275.1 218.5 L277.7 214.4 L279.7 207.7 L281.8 205 L285.1 182 L287.2 181.3 L289.2 164.4 L291.9 153.5 L294.6 158.9 L298 145.4 L300.7 160.3 L302.7 161 L304.8 167.1 L307.2 183.3 L309.5 187.4 L311.5 194.8 L313.6 206.3 L315.6 208.3 L319 219.8 L321.7 217.1 L324.4 221.9 L326.4 220.9 L328.5 222.3 L330.5 221.9 L332.5 211.7 L335.9 206.3 L338.6 186 L340.6 183 L342.7 183.3 L346.7 171.1 L349.2 176.5 L351.6 168.7 L353.4 171.1 L356.1 182 L358.8 183.3 L361.5 192.1 L363.5 196.8 L367.6 213.7 L370.3 216.5 L373.7 224.6 L376 227.7 L378.1 222.5 L380 225.9 L382.5 219.2 L385.9 219.2 L390.6 203.6 L392.6 201.6 L394.7 190.1 L397.4 185.7 L398.7 187.4 L400.7 179.2 L403 179.2 L405.5 194.8 L408.5 186.7 L409.5 188.7 L412.2 199.5 L414.3 200.2 L417 210.4 L419.7 212.4 L424.4 224.6 L426.6 217.4 L429.1 223.9 L431.5 228.2 L433.8 225.5 L437.2 223.9 L439.6 214.2 L441.9 212.4 L443.9 212.4 L446 206.3 L448.7 202.5 L450.7 205 L453.1 196.2 L454.8 198.2 L456.8 203.6 L458.8 198.5 L460.9 200.2 L464.2 214.4 L466.3 213.1 L469 215.8 L471.7 224.6 L473.7 223.9 L477.8 230.9 L479.8 229 L482.1 225.2 L484.5 233.1 L487.2 232.3 L489.3 232 L491.3 233.1 L495.4 222.3 L498.1 223.2 L500.1 218.5 L503.2 212.8 L505.4 219.3 L509.6 216.1 L512.1 223.1 L514.8 211.8 L517.1 214.6 L519.9 224.7 L523.3 225.2 L526.4 233.2 L528.7 229.8 L531.9 230.9 L534.5 235.6 L536.5 234 L539.6 237.9 L545.1 237.1 L549 240.7 L552.1 236 L555.2 241.8 L559.1 229.8 L561.4 232.9 L565.3 228.6 L568.1 235.1 L570.7 230.1 L574.3 236.3 L576.9 231.7 L581.6 237.6 L583.9 233.2 L588.6 241.8" fill="none" stroke="#d02a22" stroke-width="1.8" stroke-linejoin="round" stroke-linecap="round"/>
<path d="M50.8 341.2 L52 341.2 L52.9 360.1 L55.5 360.9 L56.5 313.9 L57.7 364.7 L58.8 343.3 L59.6 361 L60.3 354.3 L61.2 361.1 L62.3 361.1 L63.3 313.9 L64.5 365 L65.6 343.6 L66.4 361.3 L67.1 354.6 L68 361.4 L69.3 361.5 L70.3 319.3 L71.5 364.8 L72.6 343.3 L73.4 360.3 L74.1 353.7 L75 359.2 L76.1 358.8 L77.1 312.5 L78.3 362.5 L79.4 339.5 L80.2 357.3 L80.9 350.6 L81.8 356.8 L82.9 356.6 L83.9 302.4 L85.1 361.8 L86.2 337.2 L87 356.2 L87.7 349.6 L88.6 356.2 L89.6 356.6 L90.6 308.9 L91.8 361.8 L92.9 339.7 L93.7 358 L94.4 351.3 L95.3 358.8 L96 358.9 L97 314.3 L98.2 363.4 L99.3 341.7 L100.1 359.3 L100.8 352.7 L101.7 359.6 L102.5 359.7 L103.5 318.3 L104.7 363.9 L105.8 342.9 L106.6 360 L107.3 353.4 L108.2 360 L109.2 360 L110.2 322.4 L111.4 363.8 L112.5 343.4 L113.3 360 L114 353.4 L114.9 360 L116 359.4 L117 324 L118.2 362.6 L119.3 341.2 L120.1 357.6 L120.8 351 L121.7 356.3 L122.5 355.9 L123.5 312.5 L124.7 360.7 L125.8 338.5 L126.6 356.3 L127.3 349.6 L128.2 356.9 L129.1 357.2 L130.1 301.3 L131.3 363.8 L132.4 339.3 L133.2 358.4 L133.9 351.8 L134.8 359 L135.6 359.2 L136.6 303.7 L137.8 365.4 L138.9 340.9 L139.7 359.8 L140.4 353.2 L141.3 360.3 L142.3 360.5 L143.3 309.1 L144.5 366.3 L145.6 343 L146.4 361.2 L147.1 354.6 L148 361.7 L148.5 361.8 L149.5 310.7 L150.7 367.5 L151.8 344.4 L152.6 362.4 L153.3 355.7 L154.2 362.8 L154.9 363 L155.9 318.6 L157.1 368.1 L158.2 346.6 L159 363.7 L159.7 357.1 L160.6 364.1 L161.2 363.7 L162.2 326.7 L163.4 367.1 L164.5 345 L165.3 361.1 L166 354.5 L166.9 359.5 L167.4 359.2 L168.4 320.6 L169.6 363.5 L170.7 340.4 L171.5 357.2 L172.2 350.5 L173.1 356 L173.8 356 L174.8 308.4 L176 362.2 L177.1 337.7 L177.9 356 L178.6 349.4 L179.5 356 L180.2 356.2 L181.2 304.4 L182.4 363.1 L183.5 338.1 L184.3 356.9 L185 350.2 L185.9 357.4 L186.4 357.5 L187.4 307.8 L188.6 364.4 L189.7 340.4 L190.5 358.8 L191.2 352.1 L192.1 359.7 L192.7 359.9 L193.7 305.7 L194.9 366.9 L196 341.7 L196.8 360.3 L197.5 353.6 L198.3 360.5 L198.6 360.6 L199.6 312.5 L200.8 367.4 L201.9 344.8 L202.7 362.6 L203.4 356 L204.3 364.1 L205.1 364.1 L206.1 323.7 L207.3 369.2 L208.4 347.2 L209.2 363.7 L209.9 357 L210.8 363.1 L211.3 362.9 L212.3 325.6 L213.5 367.6 L214.6 345.4 L215.4 361.6 L216.1 355 L217 360.6 L217.7 360.2 L218.7 322 L219.9 365.3 L221 341.9 L221.8 358.6 L222.5 352 L223.4 357.4 L223.8 357.3 L224.8 311.8 L226 363.6 L227.1 338.1 L227.9 356 L228.6 349.4 L229.5 355.4 L230 355.4 L231 307.1 L232.2 362.7 L233.3 336.9 L234.1 355.4 L234.8 348.8 L235.7 355.5 L236.2 355.7 L237.2 303.4 L238.4 363.9 L239.5 338.3 L240.3 357.2 L241 350.5 L241.9 358.2 L242.4 358.5 L243.4 303.4 L244.6 366.7 L245.7 341 L246.5 359.9 L247.2 353.3 L248.1 361 L248.7 361.2 L249.7 317.2 L250.9 368.2 L252 345.3 L252.8 362.5 L253.5 355.9 L254.4 363.5 L254.9 363.5 L255.9 324.7 L257.1 369.6 L258.2 347.5 L259 363.9 L259.7 357.2 L260.6 364.1 L261 364.2 L262 327.8 L263.2 369.5 L264.3 346.7 L265.1 362.6 L265.8 356 L266.7 361.5 L267.1 361.3 L268.1 326 L269.3 366.8 L270.4 343.6 L271.2 359.8 L271.9 353.2 L272.8 358.7 L273.6 357.9 L274.6 317.9 L275.8 363.8 L276.9 337.4 L277.7 354.6 L278.4 348 L279.3 353.5 L279.6 353.6 L280.6 304.4 L281.8 362 L282.9 335.2 L283.7 353.9 L284.4 347.3 L285.3 355.3 L285.6 355.5 L286.6 298.6 L287.8 365.2 L288.9 338.3 L289.7 357.8 L290.4 351.2 L291.3 359.2 L292 359.5 L293 304.8 L294.2 368.4 L295.3 342.1 L296.1 360.8 L296.8 354.2 L297.7 361.7 L298.1 361.8 L299.1 313.9 L300.3 369.8 L301.4 345.2 L302.2 362.8 L302.9 356.1 L303.8 363.5 L304.5 363.7 L305.5 317 L306.7 371.4 L307.8 347.3 L308.6 364.5 L309.3 357.9 L310.2 365 L310.7 365 L311.7 323.7 L312.9 372.1 L314 348.9 L314.8 365.3 L315.5 358.7 L316.4 365 L317 364.3 L318 327 L319.2 369.8 L320.3 344.2 L321.1 360.3 L321.8 353.7 L322.7 357.4 L323.1 357.3 L324.1 311.2 L325.3 365.4 L326.4 338.5 L327.2 356.4 L327.9 349.8 L328.8 356.1 L329.2 356.2 L330.2 297 L331.4 366.3 L332.5 337.2 L333.3 356.9 L334 350.3 L334.9 357.4 L335.3 357.6 L336.3 296.3 L337.5 368 L338.6 339.1 L339.4 358.8 L340.1 352.2 L341 359.8 L341.8 360 L342.8 305.7 L344 369.4 L345.1 341.8 L345.9 360.5 L346.6 353.8 L347.5 360.8 L347.9 360.9 L348.9 307.8 L350.1 370.7 L351.2 344.6 L352 363 L352.7 356.4 L353.6 364.3 L354.1 364.4 L355.1 314.5 L356.3 373.2 L357.4 347.6 L358.2 365.1 L358.9 358.5 L359.8 365.3 L360.2 365.2 L361.2 325.1 L362.4 372.5 L363.5 347.8 L364.3 364.1 L365 357.4 L365.9 363.2 L366.6 362.8 L367.6 326 L368.8 369.9 L369.9 344.9 L370.7 361.1 L371.4 354.5 L372.3 359.9 L372.7 359.7 L373.7 311.6 L374.9 368.3 L376 340.2 L376.8 358.1 L377.5 351.4 L378.4 357.8 L378.9 358 L379.9 298 L381.1 369 L382.2 339.7 L383 359.2 L383.7 352.6 L384.6 360.1 L385.3 360.1 L386.3 301.3 L387.5 370.7 L388.6 341.4 L389.4 360.6 L390.1 353.9 L391 361.1 L391.6 361.3 L392.6 301.3 L393.8 372.2 L394.9 343.5 L395.7 362.7 L396.4 356 L397.3 363.6 L398.1 363.8 L399.1 305.7 L400.3 374.3 L401.4 346.2 L402.2 364.8 L402.9 358.1 L403.8 365.5 L404.6 365.2 L405.6 315.6 L406.8 374.2 L407.9 346.7 L408.7 364.2 L409.4 357.5 L410.3 363.3 L411.3 362.9 L412.3 321.6 L413.5 371.3 L414.6 344.9 L415.4 361.6 L416.1 355 L417 360.8 L417.7 360.8 L418.7 311.6 L419.9 370.7 L421 342.9 L421.8 360.8 L422.5 354.2 L423.3 360.8 L423.6 360.8 L424.6 301 L425.8 372 L426.9 342 L427.7 361.2 L428.4 354.5 L429.3 361.4 L430.9 361.4 L431.9 299.4 L433.1 372.6 L434.2 341.7 L435 361 L435.7 354.4 L436.6 360.9 L437.5 361.1 L438.5 300.7 L439.7 372.6 L440.8 342.5 L441.6 361.7 L442.3 355.1 L443.2 362.3 L443.8 362.5 L444.8 301.7 L446 374.1 L447.1 344.5 L447.9 363.6 L448.6 356.9 L449.5 364.3 L450.4 364.5 L451.4 309.8 L452.6 375.3 L453.7 347 L454.5 365.1 L455.2 358.5 L456.1 365.4 L457.6 365 L458.6 321.3 L459.8 374.3 L460.9 347.4 L461.7 364.1 L462.4 357.5 L463.3 363.5 L464.1 363.2 L465.1 317 L466.3 373.1 L467.4 345 L468.2 362.3 L468.9 355.6 L469.8 361.6 L471.1 361.6 L472.1 305.1 L473.3 373.1 L474.4 343.3 L475.2 362 L475.9 355.3 L476.8 362.2 L477.9 362.3 L478.9 298.6 L480.1 374.6 L481.2 343.1 L482 362.6 L482.7 355.9 L483.6 362.8 L484.9 363.1 L485.9 297.6 L487.1 375.7 L488.2 344.2 L489 363.8 L489.7 357.1 L490.6 364.3 L491.7 364.9 L492.7 298.3 L493.9 377.8 L495 347 L495.8 366.5 L496.5 359.9 L497.4 367.6 L498.6 367.3 L499.6 305.7 L500.8 378.9 L501.9 347.9 L502.7 366.5 L503.4 359.8 L504.3 365.9 L505.8 365.2 L506.8 315.7 L508 375.7 L509.1 346.3 L509.9 363.7 L510.6 357.1 L511.5 362.7 L512.8 362.9 L513.8 308.3 L515 374.8 L516.1 345 L516.9 363.3 L517.6 356.6 L518.5 363.5 L520.2 363.7 L521.2 302.6 L522.4 376.3 L523.5 345.1 L524.3 364 L525 357.4 L525.9 364.3 L527.9 364.1 L528.9 292.4 L530.1 377.6 L531.2 343.5 L532 363.7 L532.7 357.1 L533.6 363.5 L535 364 L536 289.1 L537.2 378.4 L538.3 344.5 L539.1 365.1 L539.8 358.5 L540.7 365.9 L542.3 365.8 L543.3 295.2 L544.5 379.3 L545.6 345.5 L546.4 365.3 L547.1 358.7 L548 365.1 L549.4 365.1 L550.4 305 L551.6 377.8 L552.7 346.4 L553.5 365.1 L554.2 358.5 L555.1 365.1 L556.3 365.3 L557.3 306.7 L558.5 378.2 L559.6 347.6 L560.4 366.1 L561.1 359.5 L562 366.7 L563.1 366.7 L564.1 306.7 L565.3 379.4 L566.4 347.8 L567.2 366.3 L567.9 359.7 L568.8 366.1 L569.4 366 L570.4 306.2 L571.6 378.7 L572.7 346.7 L573.5 365.3 L574.2 358.6 L575.1 364.7 L575.9 364.5 L576.9 299 L578.1 378.1 L579.2 345.7 L580 365.1 L580.7 358.4 L581.6 365.9 L582.8 366.3 L583.8 283.7 L585 382 L586.1 344.7 L586.9 365.9 L587.6 359.3 L587.5 356.7 L590.5 363.4" fill="none" stroke="#7447b8" stroke-width="1.3" stroke-linejoin="round" stroke-linecap="round"/>
</svg>
</body></html>
